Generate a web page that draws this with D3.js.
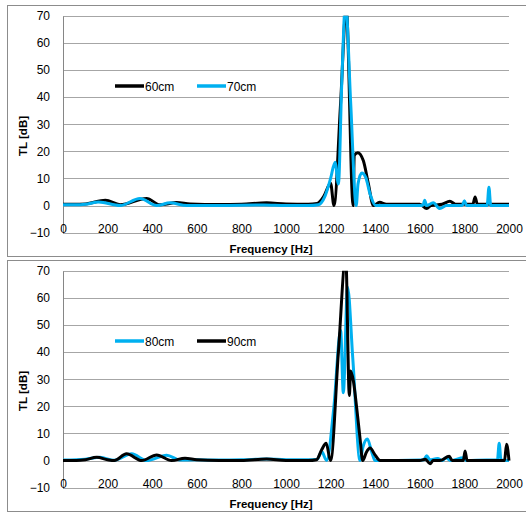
<!DOCTYPE html>
<html>
<head>
<meta charset="utf-8">
<script src="https://d3js.org/d3.v7.min.js"></script>
<style>
body { margin: 0; background: #fff; }
svg text { font-family: "Liberation Sans", Arial, sans-serif; fill: #000; }
.tick text { font-size: 12px; }
.axisTitle { font-size: 11.5px; font-weight: bold; }
.legendText { font-size: 12px; }
</style>
</head>
<body>
<svg id="svg_tl" width="526" height="512"></svg>
<script>
// --- data (frequency in Hz, TL in dB) ---
var freq60 = [0, 50, 100, 190, 256, 375, 435, 510, 570, 700, 800, 913, 1000, 1100, 1140, 1170, 1200, 1215, 1245, 1270, 1301, 1306, 1322, 1347, 1369, 1392, 1420, 1450, 1600, 1631, 1650, 1700, 1735, 1760, 1838, 1848, 1858, 2000];
var tl60   = [0.5, 0.5, 0.6, 2.0, 0.3, 2.6, 0.3, 1.1, 0.6, 0.4, 0.5, 1.0, 0.6, 0.5, 0.8, 3.5, 8.2, 0, 38, 73, 0, 18.5, 19.5, 16.5, 8.2, 0, 1.2, 0.5, 0.5, -1.1, 0, 0.5, 1.6, 0.5, 0.5, 3.2, 0.5, 0.5];

var freq70 = [0, 60, 100, 160, 256, 345, 420, 480, 555, 700, 900, 1000, 1100, 1145, 1175, 1200, 1220, 1235, 1250, 1267, 1290, 1315, 1323, 1340, 1357, 1378, 1402, 1600, 1615, 1622, 1630, 1660, 1690, 1720, 1790, 1800, 1810, 1902, 1910, 1918, 2000];
var tl70   = [0.3, 0.3, 0.5, 1.3, 0, 2.6, 0, 1.0, 0, 0, 0.2, 0, 0, 0.3, 3.5, 10, 16, 8, 45, 75, 38, 0, 8, 12, 10.5, 4, 0, 0, 0.2, 2.0, 0, 1.0, -1.1, 0, 0, 1.8, 0, 0, 6.8, 0, 0];

var freq80 = [0, 60, 100, 166, 230, 308, 375, 465, 525, 600, 700, 800, 913, 1000, 1100, 1140, 1160, 1182, 1215, 1245, 1257, 1276, 1300, 1332, 1345, 1365, 1385, 1400, 1600, 1618, 1631, 1645, 1680, 1700, 1717, 1740, 1795, 1810, 1900, 1948, 1956, 1964, 2000];
var tl80   = [0.2, 0.3, 0.5, 1.2, 0.1, 2.5, 0, 2.0, 0.2, 0.3, 0.2, 0.3, 0.6, 0.3, 0.3, 0.5, 3.3, 0, 20, 48, 25, 64, 37, 0, 5, 8, 3, 0, 0.2, 0.3, 1.8, 0.3, 0.8, 0, 1.0, 0, 1.0, 0, 0.2, 0.2, 6.4, 0.2, 0];

var freq90 = [0, 60, 100, 151, 200, 230, 285, 353, 420, 487, 547, 600, 700, 800, 913, 1000, 1100, 1137, 1160, 1180, 1200, 1235, 1268, 1284, 1290, 1302, 1317, 1332, 1344, 1360, 1377, 1400, 1422, 1600, 1625, 1646, 1660, 1690, 1732, 1745, 1795, 1803, 1812, 1980, 1989, 2000];
var tl90   = [0, 0, 0.3, 1.2, 0.3, 0, 2.5, 0, 2.1, 0, 0.9, 0.3, 0, 0, 0.6, 0, 0, 0.3, 4, 6.4, 0, 40, 75, 24, 33, 29.4, 19.4, 8.2, 0, 3, 4.6, 2, 0, 0, 0.5, -1.2, 0, 0, 1.6, 0, 0, 3.5, 0, 0, 6.0, 0];

var freqTicks = [0, 200, 400, 600, 800, 1000, 1200, 1400, 1600, 1800, 2000];
var tlTicks = [-10, 0, 10, 20, 30, 40, 50, 60, 70];

var BLACK = "#000000";
var BLUE = "#00b0f0";

// plot area inside each panel
var plot = {left: 63, right: 509, top: 15.7, bottom: 232.7};

var xScale = d3.scaleLinear().domain([0, 2000]).range([plot.left, plot.right]);
var yScale = d3.scaleLinear().domain([-10, 70]).range([plot.bottom, plot.top]);

var lineGen = d3.line()
    .x(function(d){ return xScale(d[0]); })
    .y(function(d){ return yScale(d[1]); })
    .curve(d3.curveMonotoneX);

var svg = d3.select("svg#svg_tl");

function crisp(v){ return Math.round(v) + 0.5; }

function drawPanel(offsetY, seriesList, clipId){
  var g = svg.append("g").attr("transform", "translate(0," + offsetY + ")");

  // chart border
  g.append("rect")
      .attr("x", 7.5).attr("y", 5.5)
      .attr("width", 530).attr("height", 251)
      .attr("fill", "none")
      .attr("stroke", "#8c8c8c");

  // horizontal gridlines
  g.selectAll("line.grid")
      .data(tlTicks)
      .enter().append("line")
      .attr("class", "grid")
      .attr("x1", plot.left).attr("x2", plot.right)
      .attr("y1", function(d){ return crisp(yScale(d)); })
      .attr("y2", function(d){ return crisp(yScale(d)); })
      .attr("stroke", "#a6a6a6")
      .attr("stroke-width", 1);

  // vertical axis line
  g.append("line")
      .attr("x1", plot.left + 0.5).attr("x2", plot.left + 0.5)
      .attr("y1", crisp(yScale(70))).attr("y2", crisp(yScale(-10)))
      .attr("stroke", "#868686");

  // y tick labels
  var yAxis = d3.axisLeft(yScale).tickValues(tlTicks).tickFormat(d3.format("d")).tickSize(0).tickPadding(13);
  g.append("g")
      .attr("transform", "translate(" + plot.left + ",0)")
      .call(yAxis)
      .call(function(a){ a.select(".domain").remove(); });

  // x tick labels (sit just above the bottom line, as in the original)
  var xAxis = d3.axisBottom(xScale).tickValues(freqTicks).tickFormat(d3.format("d")).tickSize(0).tickPadding(3);
  g.append("g")
      .attr("transform", "translate(0,221.5)")
      .call(xAxis)
      .call(function(a){ a.select(".domain").remove(); });

  g.selectAll(".tick text").attr("fill", "#000").attr("font-family", "Liberation Sans, Arial, sans-serif");

  // axis titles
  g.append("text")
      .attr("class", "axisTitle")
      .attr("x", 271).attr("y", 253)
      .attr("text-anchor", "middle")
      .text("Frequency [Hz]");

  g.append("text")
      .attr("class", "axisTitle")
      .attr("transform", "translate(27,136) rotate(-90)")
      .attr("text-anchor", "middle")
      .text("TL [dB]");

  // clip for the curves (peaks go off the top)
  g.append("clipPath").attr("id", clipId)
    .append("rect")
      .attr("x", plot.left).attr("y", plot.top)
      .attr("width", plot.right - plot.left + 3)
      .attr("height", plot.bottom - plot.top);

  var curves = g.append("g").attr("clip-path", "url(#" + clipId + ")");
  seriesList.forEach(function(s){
    curves.append("path")
        .datum(d3.zip(s.freq, s.tl))
        .attr("d", lineGen)
        .attr("fill", "none")
        .attr("stroke", s.color)
        .attr("stroke-width", 3)
        .attr("stroke-linejoin", "round");
  });

  // legend
  var legendX = [115, 197];
  seriesList.forEach(function(s, i){
    var lx = legendX[i];
    g.append("line")
        .attr("x1", lx).attr("x2", lx + 29)
        .attr("y1", 86).attr("y2", 86)
        .attr("stroke", s.color)
        .attr("stroke-width", 3.5);
    g.append("text")
        .attr("class", "legendText")
        .attr("x", lx + 30).attr("y", 90.5)
        .text(s.name);
  });
}

drawPanel(0, [
  {name: "60cm", freq: freq60, tl: tl60, color: BLACK},
  {name: "70cm", freq: freq70, tl: tl70, color: BLUE}
], "clipTop");

drawPanel(255, [
  {name: "80cm", freq: freq80, tl: tl80, color: BLUE},
  {name: "90cm", freq: freq90, tl: tl90, color: BLACK}
], "clipBottom");
</script>
</body>
</html>
